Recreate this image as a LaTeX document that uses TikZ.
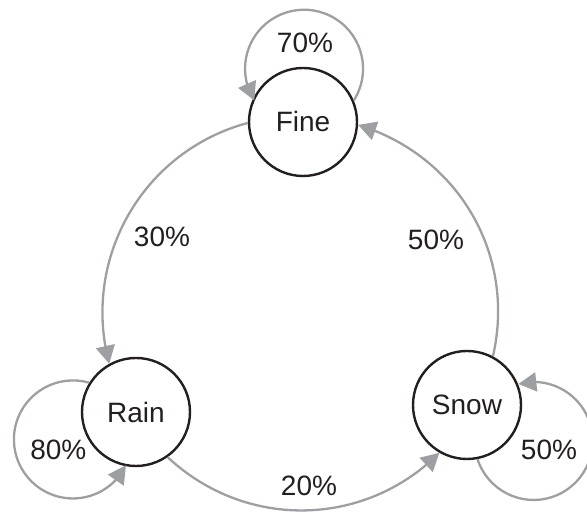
\documentclass[tikz,border=0pt]{standalone}
\usepackage{fontspec}
\setmainfont{Liberation Sans}
\usetikzlibrary{arrows.meta,bending}
\definecolor{arrowgray}{RGB}{157,159,162}
\definecolor{ink}{RGB}{35,31,32}
\tikzset{
  state/.style={circle, draw=ink, line width=2.4pt, fill=white, minimum size=108pt, inner sep=0pt, text=ink, font=\fontsize{28}{33}\selectfont},
  lbl/.style={text=ink, inner sep=0pt, font=\fontsize{28}{33}\selectfont},
  arr/.style={draw=arrowgray, line width=2.3pt, -{Triangle[length=18pt,width=19pt]}}
}
\begin{document}
\begin{tikzpicture}[x=1pt,y=1pt]
\useasboundingbox (0,0) rectangle (587,513);
\clip (0,0) rectangle (587,513);
% states
\node[state] (fine) at (303,391) {Fine};
\node[state] (rain) at (136,101) {Rain};
\node[state] (snow) at (467,108) {Snow};
% transitions between states
\draw[arr] (fine.181) to[out=195,in=105] (rain.119);
\draw[arr] (rain.305) to[out=317,in=225] (snow.240);
\draw[arr] (snow.62) to[out=77,in=343] (fine.357);
% self loops
\draw[arr] (fine.23) arc[start angle=-32.5, end angle=212.5, radius=59];
\draw[arr] (rain.148) arc[start angle=74, end angle=334, radius=59];
\draw[arr] (snow.281) arc[start angle=198, end angle=465, radius=59];
% labels
\node[lbl] (l70) at (305,470.5) {70\%};
\node[lbl] (l30) at (162,276) {30\%};
\node[lbl] (l50a) at (436,273) {50\%};
\node[lbl] (l80) at (58.3,63) {80\%};
\node[lbl] (l50b) at (549,63) {50\%};
\node[lbl] (l20) at (309,27.5) {20\%};
\end{tikzpicture}
\end{document}
